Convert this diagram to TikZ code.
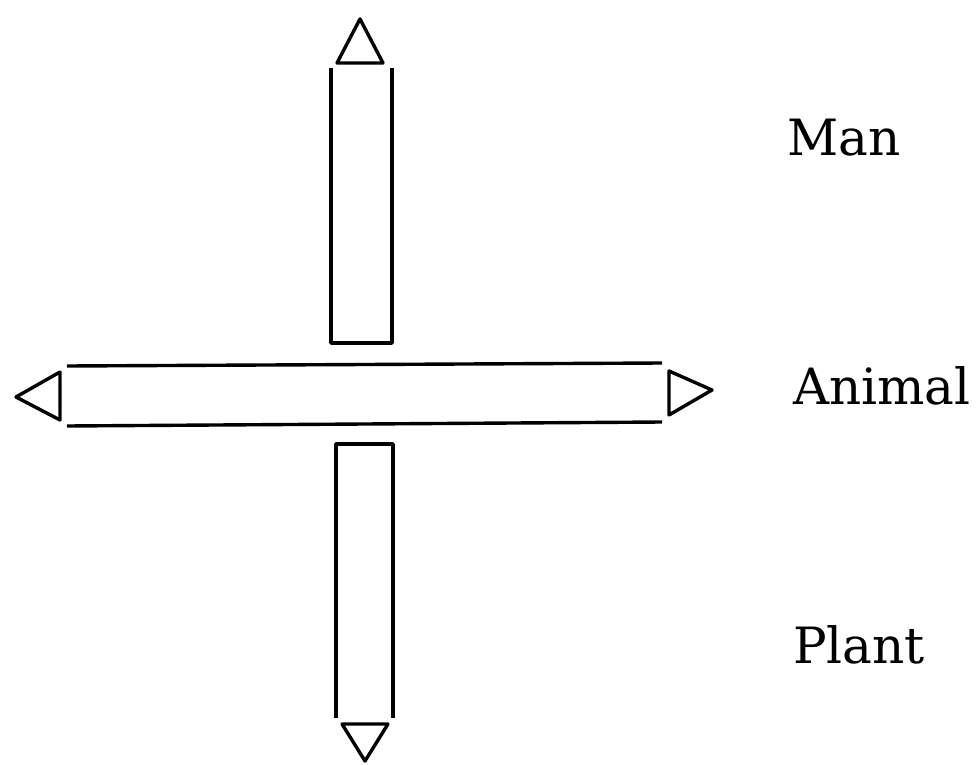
\documentclass[tikz,border=0pt]{standalone}
\usepackage{fontspec}
\newfontfamily\labelfont{DejaVu Serif}
\begin{document}
\begin{tikzpicture}[x=1pt,y=-1pt,
  stroke/.style={line width=3.4pt,line join=round,line cap=butt},
  lbl/.style={anchor=base west,inner sep=0pt,font=\labelfont\fontsize{50}{56}\selectfont}]
\useasboundingbox (0,0) rectangle (977,765);
% top bar
\draw[stroke] (331,68) -- (331,343) -- (392,343) -- (392,68);
\draw[stroke] (360,19) -- (383,63) -- (337,63) -- cycle;
% horizontal bar
\draw[stroke] (67,366) -- (662,363);
\draw[stroke] (67,426) -- (662,422);
\draw[stroke] (16,397) -- (60,372) -- (60,420) -- cycle;
\draw[stroke] (712,390) -- (669,371) -- (669,415) -- cycle;
% bottom bar
\draw[stroke] (336,718) -- (336,444) -- (393,444) -- (393,718);
\draw[stroke] (342,724) -- (388,724) -- (365,761) -- cycle;
% labels
\node[lbl] (man) at (787,156) {Man};
\node[lbl] (animal) at (793,404) {Animal};
\node[lbl] (plant) at (793,663) {Plant};
\end{tikzpicture}
\end{document}
